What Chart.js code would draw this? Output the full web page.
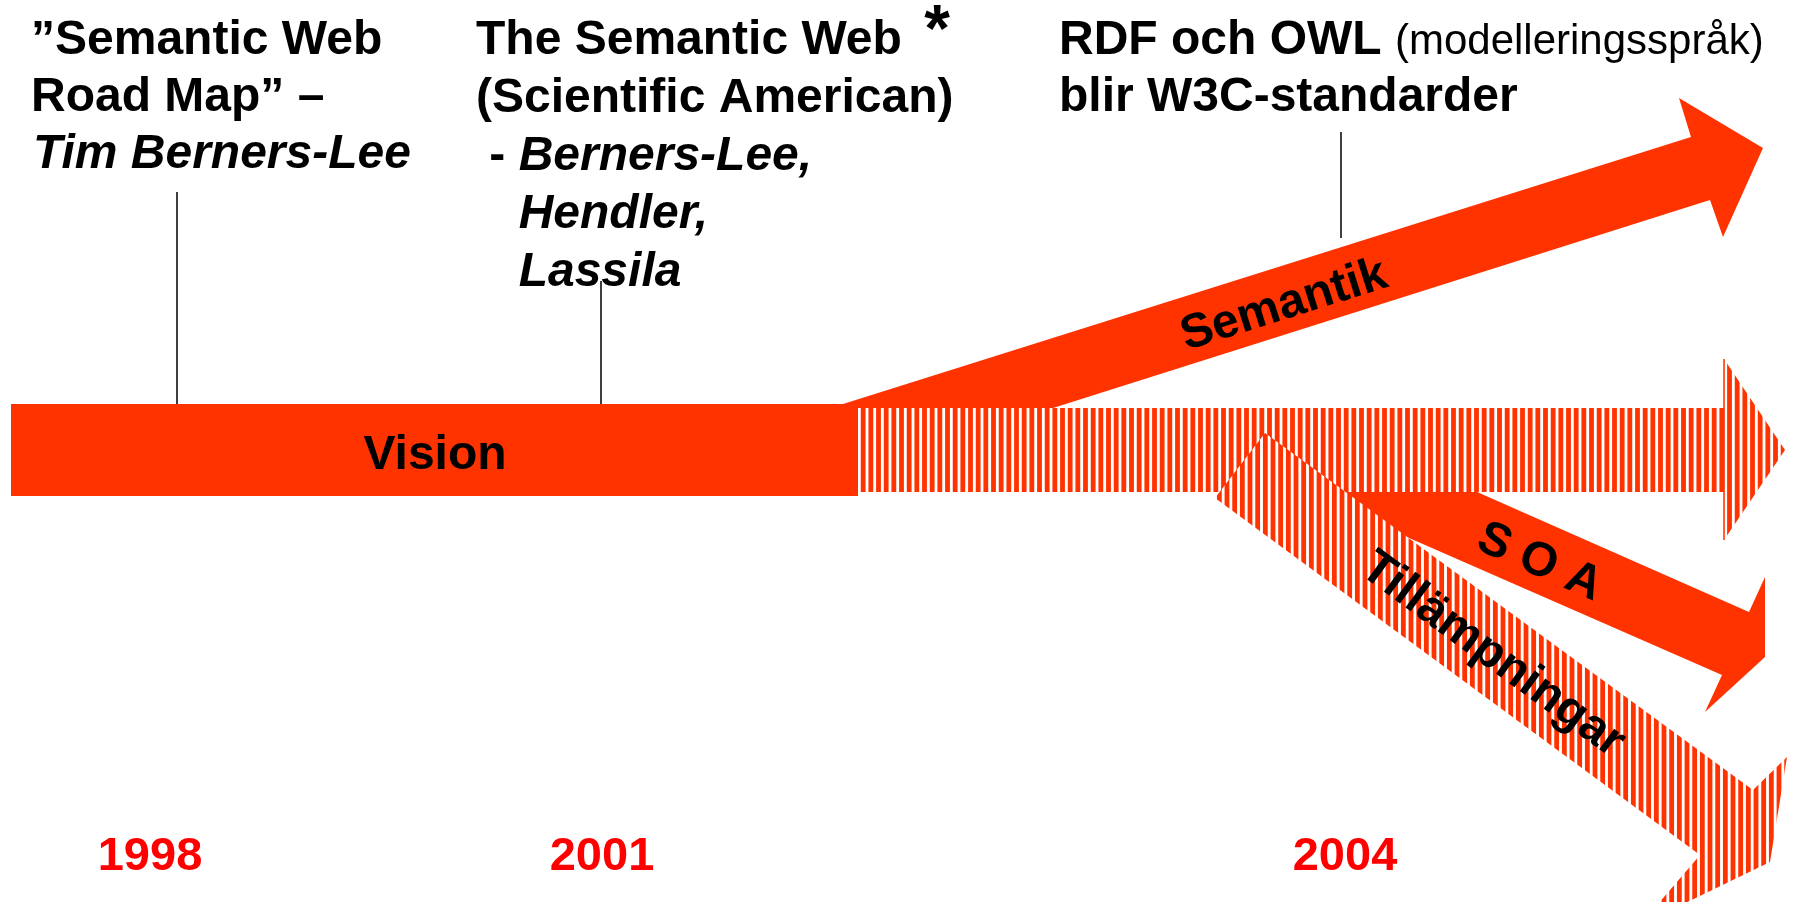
<!DOCTYPE html>
<html>
<head>
<meta charset="utf-8">
<title>Semantic Web – tidslinje</title>
<script src="https://cdn.jsdelivr.net/npm/chart.js@4.4.1/dist/chart.umd.min.js"></script>
<style>
  html, body { margin: 0; padding: 0; background: #fff; }
  #wrap { width: 1796px; height: 902px; position: relative; }
</style>
</head>
<body>
<div id="wrap"><canvas id="roadmap"></canvas></div>
<script>
// Arrow outlines in diagram units (x: 0-1796 along the timeline, y: 0-902 from the top)
const visionBar = [[11, 404], [858, 404], [858, 496], [11, 496]];
const webArrow = [[858, 408], [1724, 408], [1724, 359], [1785, 450], [1724, 540], [1724, 492], [858, 492]];
const webHeadBase = [[1724, 359], [1724, 540]];
const semantikArrow = [[843, 404], [1691, 137], [1679, 98], [1763, 148], [1723, 237], [1710, 200], [1053, 408], [858, 408], [858, 404]];
const soaArrow = [[1320, 492], [1477, 492], [1749, 612], [1765, 577], [1765, 657], [1705, 712], [1722, 675], [1320, 499]];
const tillArrow = [[1265, 433], [1753, 790], [1787, 757], [1770, 862], [1640, 925], [1700, 855], [1215, 498]];

// milestone pointer lines
const milestoneX = [177, 601, 1341];
const milestoneTop = [192, 281, 132];
const milestoneBottom = [404, 404, 238];

// years under the timeline
const years = ['1998', '2001', '2004'];
const yearX = [150, 602, 1345];

// notes
const roadMapNote = ['”Semantic Web', 'Road Map” –'];
const roadMapAuthor = ['Tim Berners-Lee'];
const sciAmNote = ['The Semantic Web', '(Scientific American)'];
const sciAmAuthors = ['Berners-Lee,', 'Hendler,', 'Lassila'];
const sciAmMark = '*';
const rdfNote = ['RDF och OWL', 'blir W3C-standarder'];
const rdfAside = '(modelleringsspråk)';

const arrowLabels = ['Vision', 'Semantik', 'S O A', 'Tillämpningar'];

const RED = '#FF3300';

// vertical stripe fill (red on white), period ~7.67px
function stripePattern(offset) {
    const c = document.createElement('canvas');
    c.width = 23;
    c.height = 8;
    const g = c.getContext('2d');
    g.fillStyle = '#fff';
    g.fillRect(0, 0, 23, 8);
    g.fillStyle = RED;
    for (let k = 0; k < 3; k++) {
        const x0 = (offset + k * 23 / 3) % 23;
        g.fillRect(x0, 0, 4.8, 8);
        if (x0 + 4.8 > 23) g.fillRect(x0 - 23, 0, 4.8, 8);
    }
    return g.createPattern(c, 'repeat');
}

function shapeDataset(points, fillStyle, order) {
    const data = points.map(p => ({ x: p[0], y: p[1] }));
    data.push({ x: points[0][0], y: points[0][1] });
    return {
        data: data,
        showLine: true,
        fill: 'shape',
        backgroundColor: fillStyle,
        borderWidth: 0,
        borderDash: [1, 0],
        pointRadius: 0,
        tension: 0,
        order: order
    };
}

function lineDataset(points, color, width, order) {
    return {
        data: points.map(p => ({ x: p[0], y: p[1] })),
        showLine: true,
        fill: false,
        borderColor: color,
        borderWidth: width,
        pointRadius: 0,
        order: order
    };
}

const FONT = '"Liberation Sans", Arial, Helvetica, sans-serif';

// draws notes, years and the labels on the arrows
const textPlugin = {
    id: 'roadmapText',
    afterDatasetsDraw(chart) {
        const { ctx, scales: { x, y } } = chart;
        const px = v => x.getPixelForValue(v);
        const py = v => y.getPixelForValue(v);
        const bold = 'bold 48px ' + FONT;
        const boldItalic = 'italic bold 48px ' + FONT;

        ctx.save();
        ctx.fillStyle = '#000';
        ctx.textBaseline = 'alphabetic';
        ctx.textAlign = 'left';

        // 1998
        ctx.font = bold;
        roadMapNote.forEach((t, i) => ctx.fillText(t, px(31), py(54 + i * 57)));
        ctx.font = boldItalic;
        roadMapAuthor.forEach((t, i) => ctx.fillText(t, px(33), py(54 + (roadMapNote.length + i) * 57)));

        // 2001
        ctx.font = bold;
        sciAmNote.forEach((t, i) => ctx.fillText(t, px(476), py(54 + i * 58)));
        const dash = ' - ';
        const indent = ctx.measureText(dash).width;
        const authorLine = 54 + sciAmNote.length * 58;
        ctx.fillText(dash, px(476), py(authorLine));
        ctx.font = boldItalic;
        sciAmAuthors.forEach((t, i) => ctx.fillText(t, px(476) + indent, py(authorLine + i * 58)));
        ctx.font = 'bold 66px ' + FONT;
        ctx.textAlign = 'center';
        ctx.fillText(sciAmMark, px(937), py(51));
        ctx.textAlign = 'left';

        // 2004
        ctx.font = bold;
        ctx.fillText(rdfNote[0] + ' ', px(1059), py(54));
        const w = ctx.measureText(rdfNote[0] + ' ').width;
        ctx.font = '42px ' + FONT;
        ctx.fillText(rdfAside, px(1059) + w, py(54));
        ctx.font = bold;
        ctx.fillText(rdfNote[1], px(1059), py(111));

        // years
        ctx.fillStyle = '#FF0000';
        ctx.font = 'bold 47px ' + FONT;
        ctx.textAlign = 'center';
        years.forEach((t, i) => ctx.fillText(t, px(yearX[i]), py(870)));

        // arrow labels, rotated along each arrow's edge
        ctx.fillStyle = '#000';
        ctx.font = bold;
        const edgeAngle = (pts, a, b) => Math.atan2(py(pts[b][1]) - py(pts[a][1]), px(pts[b][0]) - px(pts[a][0]));
        const label = (text, cx, cy, ang) => {
            ctx.save();
            ctx.translate(px(cx), py(cy));
            ctx.rotate(ang);
            ctx.fillText(text, 0, 17);
            ctx.restore();
        };
        label(arrowLabels[0], 435, 452, 0);
        label(arrowLabels[1], 1283, 302, edgeAngle(semantikArrow, 0, 1));
        label(arrowLabels[2], 1541, 559, edgeAngle(soaArrow, 1, 2));
        label(arrowLabels[3], 1495, 652, edgeAngle(tillArrow, 0, 1));

        ctx.restore();
    }
};

const datasets = [
    shapeDataset(visionBar, RED, 10),
    shapeDataset(webArrow, stripePattern(2.1), 9),
    lineDataset(webHeadBase, RED, 1.5, 8),
    shapeDataset(semantikArrow, RED, 7),
    shapeDataset(soaArrow, RED, 6),
    shapeDataset(tillArrow, stripePattern(5.6), 5)
];
milestoneX.forEach((mx, i) => {
    datasets.push(lineDataset([[mx, milestoneTop[i]], [mx, milestoneBottom[i]]], '#000', 1.5, 1));
});

new Chart(document.getElementById('roadmap'), {
    type: 'scatter',
    data: { datasets: datasets },
    options: {
        responsive: true,
        maintainAspectRatio: false,
        animation: false,
        events: [],
        layout: { padding: 0 },
        plugins: {
            legend: { display: false },
            tooltip: { enabled: false }
        },
        scales: {
            x: { type: 'linear', min: 0, max: 1796, display: false },
            y: { type: 'linear', min: 0, max: 902, reverse: true, display: false }
        }
    },
    plugins: [textPlugin]
});
</script>
</body>
</html>
